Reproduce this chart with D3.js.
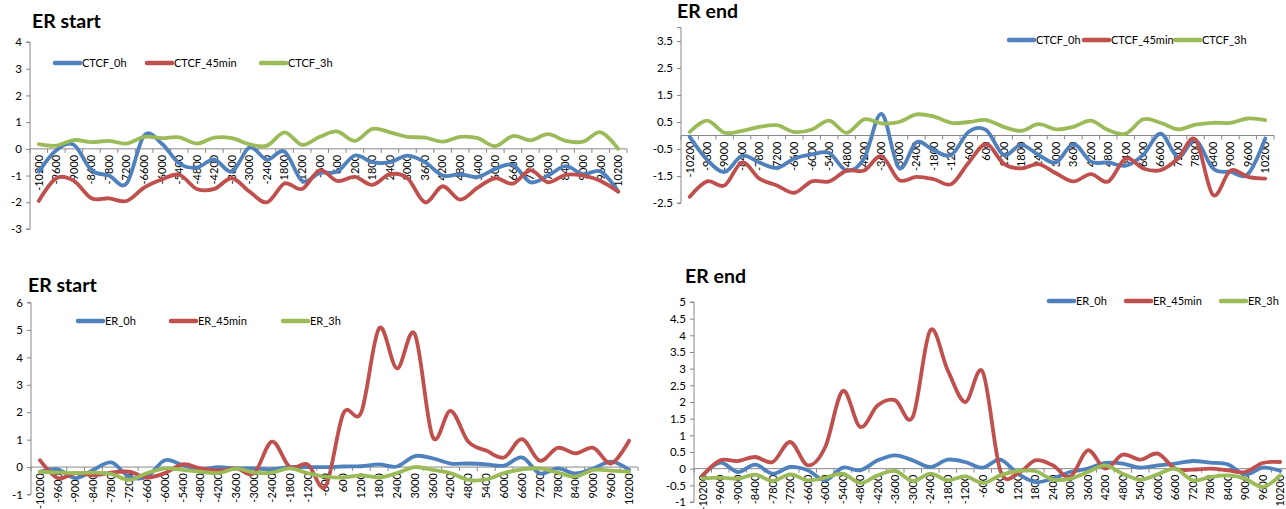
<!DOCTYPE html>
<html><head><meta charset="utf-8">
<script src="https://cdn.jsdelivr.net/npm/d3@7"></script>
<style>
html,body{margin:0;padding:0;background:#fff;overflow:hidden}
svg{display:block;font-family:Lato,"Open Sans",sans-serif}
</style></head>
<body>
<svg id="c" width="1286" height="509"></svg>
<script>
const categories = ["-10200","-9600","-9000","-8400","-7800","-7200","-6600","-6000","-5400","-4800","-4200","-3600","-3000","-2400","-1800","-1200","-600","600","1200","1800","2400","3000","3600","4200","4800","5400","6000","6600","7200","7800","8400","9000","9600","10200"];

const ctcfStartNames = ["CTCF_0h","CTCF_45min","CTCF_3h"];
const ctcfStart0h = [-0.85,-0.05,0.15,-0.8,-1.0,-1.3,0.5,0.2,-0.55,-0.7,-0.4,-0.85,0.05,-0.4,-0.1,-1.2,-0.9,-0.85,-0.25,-0.5,-0.5,-0.25,-0.5,-1.0,-0.95,-1.05,-0.75,-0.6,-1.25,-1.0,-0.65,-0.95,-0.85,-1.6];
const ctcfStart45min = [-1.95,-1.1,-1.2,-1.85,-1.85,-1.95,-1.45,-1.15,-0.97,-1.5,-1.5,-1.1,-1.6,-2.0,-1.3,-1.5,-0.8,-1.2,-1.05,-1.35,-0.95,-1.1,-2.0,-1.4,-1.9,-1.45,-1.1,-1.3,-0.8,-1.25,-0.97,-1.0,-1.2,-1.6];
const ctcfStart3h = [0.18,0.12,0.33,0.25,0.3,0.2,0.45,0.4,0.43,0.2,0.42,0.4,0.17,0.12,0.62,0.15,0.45,0.65,0.3,0.75,0.62,0.45,0.42,0.27,0.45,0.4,0.1,0.48,0.32,0.55,0.3,0.27,0.62,0.0];

const ctcfEnd0h = [-0.05,-0.9,-1.35,-0.75,-1.0,-1.2,-0.85,-0.7,-0.65,-1.3,-0.85,0.8,-1.2,-0.25,-0.55,-0.72,0.14,0.2,-0.72,-0.35,-0.72,-1.0,-0.32,-0.97,-1.0,-1.12,-0.72,0.07,-0.8,-0.17,-1.22,-1.35,-1.43,-0.11];
const ctcfEnd45min = [-2.27,-1.7,-1.85,-1.0,-1.6,-1.85,-2.12,-1.7,-1.7,-1.3,-1.3,-0.77,-1.65,-1.53,-1.62,-1.8,-1.0,-0.32,-1.04,-1.22,-1.06,-1.4,-1.7,-1.43,-1.7,-0.85,-1.22,-1.28,-0.85,-0.15,-2.2,-1.3,-1.53,-1.6];
const ctcfEnd3h = [0.13,0.55,0.1,0.17,0.32,0.38,0.13,0.22,0.55,0.1,0.6,0.45,0.5,0.78,0.7,0.47,0.5,0.57,0.32,0.17,0.42,0.23,0.32,0.55,0.2,0.07,0.6,0.47,0.23,0.4,0.47,0.47,0.63,0.57];

const erNames = ["ER_0h","ER_45min","ER_3h"];
const erStart0h = [-0.17,-0.08,-0.4,-0.1,0.17,-0.35,-0.35,0.25,0.07,-0.08,0.0,-0.05,-0.05,-0.08,0.0,0.0,0.0,0.02,0.03,0.1,0.02,0.4,0.32,0.13,0.13,0.1,0.05,0.35,-0.23,-0.05,-0.23,-0.05,0.2,-0.1];
const erStart45min = [0.25,-0.4,-0.22,-0.3,-0.2,-0.17,-0.38,-0.22,0.1,-0.05,-0.13,-0.05,-0.22,0.93,0.0,0.1,-0.7,1.96,2.0,5.06,3.6,4.85,1.1,2.05,0.92,0.6,0.35,1.02,0.23,0.7,0.5,0.7,0.13,0.96];
const erStart3h = [-0.17,-0.2,-0.22,-0.2,-0.25,-0.47,-0.22,-0.05,-0.1,-0.17,-0.22,-0.06,-0.2,-0.2,-0.05,-0.22,-0.35,-0.38,-0.3,-0.38,-0.22,0.0,-0.1,-0.22,-0.47,-0.45,-0.22,-0.08,-0.05,-0.2,-0.35,-0.1,-0.13,-0.17];

const erEnd0h = [-0.2,0.18,-0.1,0.12,-0.15,0.05,-0.05,-0.35,0.03,-0.05,0.25,0.4,0.25,0.05,0.27,0.2,0.03,0.27,-0.15,-0.4,-0.3,-0.1,0.0,0.17,0.15,0.03,0.1,0.15,0.23,0.18,0.13,-0.18,0.03,-0.07];
const erEnd45min = [-0.2,0.25,0.23,0.35,0.2,0.8,0.1,0.65,2.33,1.25,1.9,2.05,1.55,4.15,2.95,2.0,2.9,-0.05,-0.15,0.25,0.1,-0.25,0.55,0.0,0.42,0.27,0.45,0.0,-0.03,0.0,-0.05,-0.1,0.17,0.2];
const erEnd3h = [-0.3,-0.27,-0.3,-0.18,-0.37,-0.17,-0.35,-0.27,-0.15,-0.43,-0.2,-0.07,-0.37,-0.15,-0.35,-0.23,-0.43,-0.2,-0.07,-0.07,-0.33,-0.3,-0.1,0.1,-0.15,-0.33,-0.17,0.0,-0.35,-0.25,-0.2,-0.3,-0.55,-0.2];

const titles = ["ER start","ER end","ER start","ER end"];
const yTicksA = [-3,-2,-1,0,1,2,3,4];
const yTicksB = [-2.5,-1.5,-0.5,0.5,1.5,2.5,3.5];
const yTicksC = [-1,0,1,2,3,4,5,6];
const yTicksD = [-1,-0.5,0,0.5,1,1.5,2,2.5,3,3.5,4,4.5,5];
const colors = ["#4F81BD","#C0504D","#9BBB59"];

const svg = d3.select("#c");
const axisColor = "#888";

function panel(cfg){
  const g = svg.append("g");
  const x = d3.scaleBand().domain(categories).range([cfg.x0, cfg.x1]).padding(0);
  const y = d3.scaleLinear().domain(cfg.yDomain).range([cfg.yBottom, cfg.yTop]);

  // title
  g.append("text").attr("x", cfg.tx).attr("y", cfg.ty)
    .attr("font-size", 19.5).attr("font-weight", "bold").attr("fill", "#000")
    .text(cfg.title);

  // y axis
  const ya = d3.axisLeft(y).tickValues(cfg.yTicks).tickSize(4).tickPadding(4)
    .tickFormat(d => String(d));
  const yg = g.append("g").attr("transform", `translate(${cfg.x0},0)`).call(ya);
  yg.select(".domain").attr("stroke", axisColor).attr("d", `M-4,${cfg.yTop}H0V${cfg.yBottom}H-4`);
  yg.selectAll(".tick line").attr("stroke", axisColor);
  yg.selectAll("text").attr("font-size", 11.5).attr("fill", "#000").attr("font-family","Lato,sans-serif");

  // x axis at zero
  const y0 = y(0);
  const xa = d3.axisBottom(x).tickSize(0).tickPadding(0);
  const xg = g.append("g").attr("transform", `translate(0,${y0})`).call(xa);
  xg.select(".domain").attr("stroke", axisColor).attr("d", `M${cfg.x0},0H${cfg.x1}`);
  xg.selectAll("text")
    .attr("transform", "rotate(-90)")
    .attr("text-anchor", "end")
    .attr("x", -6).attr("y", 0).attr("dy", "0.35em")
    .attr("font-size", 11).attr("fill", "#000").attr("font-family","Lato,sans-serif");
  // boundary ticks
  const bounds = categories.map(c => x(c)).concat([cfg.x1]);
  g.append("g").selectAll("line").data(bounds).join("line")
    .attr("x1", d => d).attr("x2", d => d)
    .attr("y1", y0).attr("y2", y0 + 4)
    .attr("stroke", axisColor);

  // lines
  const line = d3.line()
    .x((d, i) => x(categories[i]) + x.bandwidth() / 2)
    .y(d => y(d))
    .curve(d3.curveCardinal.tension(0));
  cfg.series.forEach((s, i) => {
    g.append("path").attr("d", line(s))
      .attr("fill", "none").attr("stroke", colors[i])
      .attr("stroke-width", 3.8).attr("stroke-linejoin", "round").attr("stroke-linecap", "round");
  });

  // legend
  cfg.legend.forEach((lx, i) => {
    g.append("line").attr("x1", lx).attr("x2", lx + 25)
      .attr("y1", cfg.ly).attr("y2", cfg.ly)
      .attr("stroke", colors[i]).attr("stroke-width", 4.5).attr("stroke-linecap", "round");
    g.append("text").attr("x", lx + 27).attr("y", cfg.ly).attr("dy", "0.36em")
      .attr("font-size", 11).attr("fill", "#000").text(cfg.names[i]);
  });
}

panel({title: titles[0], tx: 32, ty: 28, x0: 30, x1: 627, yDomain: [-3, 4], yBottom: 229, yTop: 42,
  yTicks: yTicksA, series: [ctcfStart0h, ctcfStart45min, ctcfStart3h], names: ctcfStartNames,
  ly: 63, legend: [55, 147, 261]});
panel({title: titles[1], tx: 677, ty: 18, x0: 681, x1: 1274, yDomain: [-2.5, 4], yBottom: 203, yTop: 27.5,
  yTicks: yTicksB, series: [ctcfEnd0h, ctcfEnd45min, ctcfEnd3h], names: ctcfStartNames,
  ly: 40, legend: [1009, 1084, 1175]});
panel({title: titles[2], tx: 28, ty: 292, x0: 31, x1: 638, yDomain: [-1, 6], yBottom: 494.5, yTop: 302.5,
  yTicks: yTicksC, series: [erStart0h, erStart45min, erStart3h], names: erNames,
  ly: 321, legend: [78, 171, 283]});
panel({title: titles[3], tx: 685, ty: 283, x0: 694, x1: 1289, yDomain: [-1, 5], yBottom: 502, yTop: 302,
  yTicks: yTicksD, series: [erEnd0h, erEnd45min, erEnd3h], names: erNames,
  ly: 301, legend: [1049, 1126, 1221]});
</script>
</body></html>
